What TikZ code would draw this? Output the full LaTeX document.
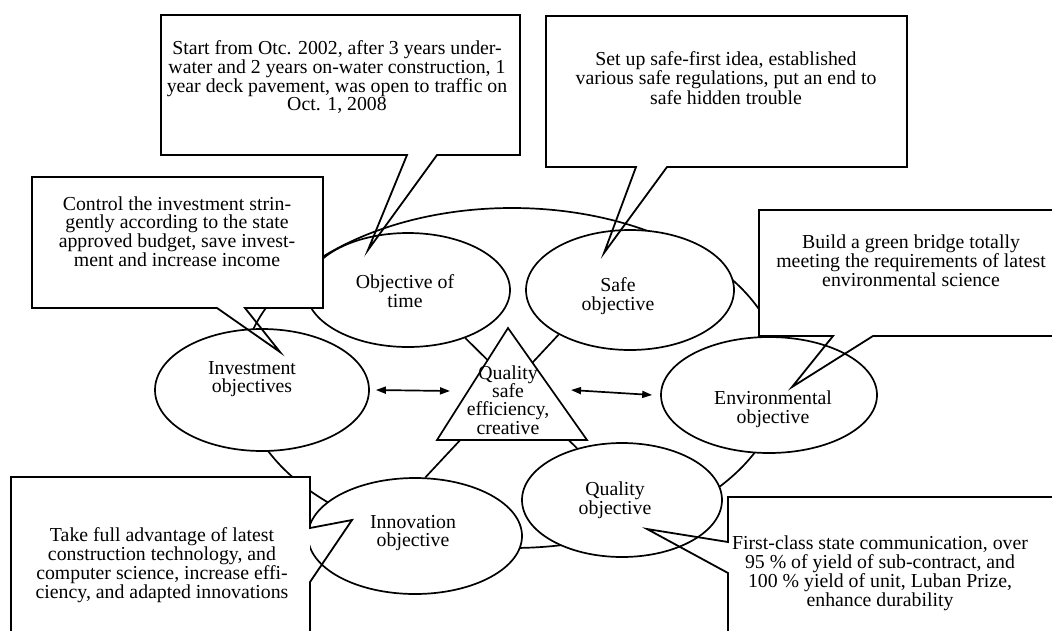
\documentclass[tikz,border=0pt]{standalone}
\usepackage{fontspec}
\setmainfont{Liberation Serif}
\usetikzlibrary{arrows.meta,shapes.geometric}
\begin{document}
\begin{tikzpicture}[x=1pt,y=-1pt,
  every node/.style={font=\fontsize{19.8}{18.5}\selectfont},
  ln/.style={line width=1.7pt},
  obj/.style={ellipse, draw, line width=1.7pt, fill=white, inner sep=0pt},
  txt/.style={align=center, inner sep=0pt},
  callout/.style={draw, line width=1.8pt, line join=miter},
  arr/.style={line width=1.7pt, {Triangle[length=10pt,width=7pt]}-{Triangle[length=10pt,width=7pt]}}
]
\clip (0,0) rectangle (1052,630);
\fill[white] (0,0) rectangle (1052,630);
% outer ring
\node[draw, ellipse, line width=1.7pt, minimum width=540pt, minimum height=340pt, inner sep=0pt] (ring) at (512,378) {};
% objective ellipses
\node[obj, minimum width=204pt, minimum height=114pt] (time) at (408,290) {};
\node[obj, minimum width=208pt, minimum height=120pt] (safe) at (630,290) {};
\node[obj, minimum width=214pt, minimum height=122pt] (invest) at (262,390) {};
\node[obj, minimum width=216pt, minimum height=116pt] (env) at (769,395) {};
\node[obj, minimum width=214pt, minimum height=116pt] (innov) at (415,536) {};
\node[obj, minimum width=200pt, minimum height=114pt] (quality) at (622,500) {};
% spokes
\draw[ln] (time.320) -- (quality.131);
\draw[ln] (safe.212) -- (innov.80);
% central triangle
\coordinate (tA) at (508,328);
\coordinate (tB) at (437,440);
\coordinate (tC) at (587,440);
\draw[ln, fill=white, line join=miter] (tA) -- (tB) -- (tC) -- cycle;
\node[txt, font=\fontsize{19.8}{18.3}\selectfont] (core) at (508,400) {Quality\\safe\\efficiency,\\creative};
% arrows
\coordinate (la) at (450,391);
\coordinate (ra) at (571,390);
\draw[arr] ([xshift=6pt]invest.east) -- (la);
\draw[arr] (ra) -- ([xshift=-8pt]env.west);
% ellipse labels
\node[txt] (timeL) at (405,291) {Objective of\\time};
\node[txt] (safeL) at (618,296) {Safe\\objective};
\node[txt] (investL) at (252,379) {Investment\\objectives};
\node[txt] (envL) at (773,409) {Environmental\\objective};
\node[txt] (innovL) at (413,533) {Innovation\\objective};
\node[txt] (qualityL) at (615,500) {Quality\\objective};
% callout tips
\coordinate (timeTip) at (368,250);
\coordinate (safeTip) at (604,253);
\coordinate (investTip) at (280,352);
\coordinate (envTip) at (792,387);
\coordinate (innovTip) at (352,520);
\coordinate (qualityTip) at (647,529);
% time callout
\fill[white] (161,15) rectangle (520,155);
\draw[callout] (407,155) -- (timeTip) -- (437,155) -- (520,155) -- (520,15) -- (161,15) -- (161,155) -- cycle;
\node[txt, font=\fontsize{19.8}{16.7}\selectfont] (timeT) at (337,77) {Start from Otc. 2002, after 3 years under-\\water and 2 years on-water construction, 1\\year deck pavement, was open to traffic on\\Oct. 1, 2008};
% safe callout
\fill[white] (546,16) rectangle (907,167);
\draw[callout] (636,167) -- (safeTip) -- (667,167) -- (907,167) -- (907,16) -- (546,16) -- (546,167) -- cycle;
\node[txt, font=\fontsize{19.8}{17.5}\selectfont] (safeT) at (726,78) {Set up safe-first idea, established\\various safe regulations, put an end to\\safe hidden trouble};
% investment callout
\fill[white] (32,177) rectangle (323,308);
\draw[callout] (217,308) -- (investTip) -- (245,308) -- (323,308) -- (323,177) -- (32,177) -- (32,308) -- cycle;
\node[txt, font=\fontsize{19.8}{18}\selectfont] (investT) at (177,232) {Control the investment strin-\\gently according to the state\\approved budget, save invest-\\ment and increase income};
% environmental callout
\fill[white] (759,210) rectangle (1070,336);
\draw[callout] (833,336) -- (envTip) -- (873,336) -- (1070,336) -- (1070,210) -- (759,210) -- (759,336) -- cycle;
\node[txt, font=\fontsize{19.8}{19}\selectfont] (envT) at (911,261) {Build a green bridge totally\\meeting the requirements of latest\\environmental science};
% innovation callout
\fill[white] (11,477) rectangle (310,650);
\draw[callout] (310,528) -- (innovTip) -- (310,582) -- (310,650) -- (11,650) -- (11,477) -- (310,477) -- cycle;
\node[txt, font=\fontsize{19.8}{19}\selectfont] (innovT) at (162,565) {Take full advantage of latest\\construction technology, and\\computer science, increase effi-\\ciency, and adapted innovations};
% quality callout
\fill[white] (728,497) rectangle (1070,650);
\draw[callout] (728,573) -- (qualityTip) -- (728,542) -- (728,497) -- (1070,497) -- (1070,650) -- (728,650) -- cycle;
\node[txt, font=\fontsize{19.8}{19}\selectfont] (qualityT) at (880,573) {First-class state communication, over\\95 \% of yield of sub-contract, and\\100 \% yield of unit, Luban Prize,\\enhance durability};
\end{tikzpicture}
\end{document}
